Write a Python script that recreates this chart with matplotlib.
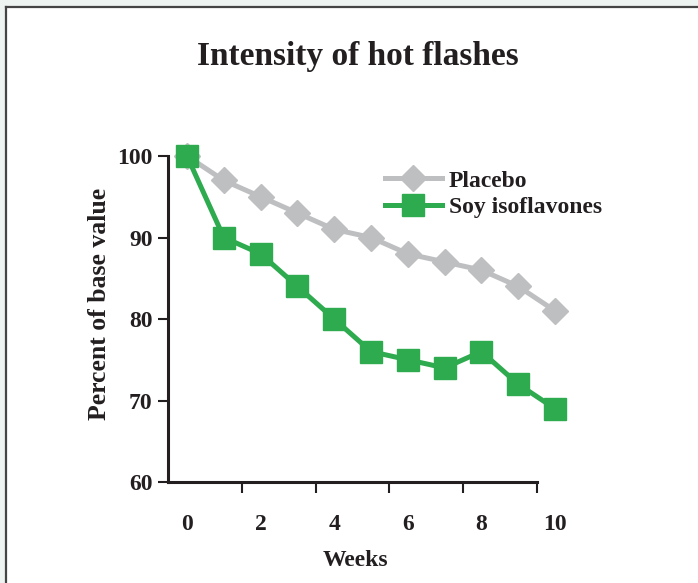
import matplotlib
matplotlib.use("Agg")
import matplotlib.pyplot as plt
from matplotlib.patches import Rectangle

# data
weeks = [0, 1, 2, 3, 4, 5, 6, 7, 8, 9, 10]
placebo = [100, 97, 95, 93, 91, 90, 88, 87, 86, 84, 81]
soy = [100, 90, 88, 84, 80, 76, 75, 74, 76, 72, 69]
xtick_labels = [0, 2, 4, 6, 8, 10]
ytick_values = [60, 70, 80, 90, 100]

INK = "#231F20"
GREEN = "#2EAA4F"
GRAY = "#BEBFC1"
W, H = 698, 583

plt.rcParams["font.family"] = ["Liberation Serif", "DejaVu Serif"]
plt.rcParams["font.weight"] = "bold"

fig = plt.figure(figsize=(W / 100, H / 100), dpi=100)
fig.patch.set_facecolor("#EDF3F1")

# white panel with dark frame on top/left
fig.add_artist(Rectangle((6 / W, 0), 1, 1 - 7 / H, transform=fig.transFigure,
                         facecolor="white", edgecolor="none", zorder=0))
fig.add_artist(plt.Line2D([6 / W, 1], [1 - 7 / H, 1 - 7 / H], transform=fig.transFigure,
                          color="#444444", lw=1.6))
fig.add_artist(plt.Line2D([6 / W, 6 / W], [0, 1 - 7 / H], transform=fig.transFigure,
                          color="#444444", lw=1.6))

# axes: x=-0.52 at px 168, 36.8 px per week; y=60 at px 481, 8.15 px per unit
x0, x1 = -0.52, 10.6
y0, y1 = 60, 101.5
left = (187 + x0 * 36.8) / W
right = (187 + x1 * 36.8) / W
bottom = 1 - 482 / H
top = 1 - (482 - (y1 - 60) * 8.15) / H
ax = fig.add_axes([left, bottom, right - left, top - bottom])
ax.set_facecolor("none")
ax.set_xlim(x0, x1)
ax.set_ylim(y0, y1)

ax.plot(weeks, placebo, color=GRAY, lw=3.6, marker="D", ms=13.5, mec=GRAY,
        label="Placebo", clip_on=False, zorder=3)
ax.plot(weeks, soy, color=GREEN, lw=3.6, marker="s", ms=16, mec=GREEN,
        label="Soy isoflavones", clip_on=False, zorder=4)

for s in ["top", "right"]:
    ax.spines[s].set_visible(False)
for s in ["left", "bottom"]:
    ax.spines[s].set_linewidth(2.2)
    ax.spines[s].set_color(INK)
ax.spines["left"].set_bounds(60, 100)
ax.spines["bottom"].set_bounds(x0, 9.5)

# tick marks sit between the labelled weeks
ax.set_xticks([1.5, 3.5, 5.5, 7.5, 9.5])
ax.set_xticklabels([])
ax.tick_params(axis="x", which="major", length=8, width=1.5, color=INK)
ax.set_xticks(xtick_labels, minor=True)
ax.set_xticklabels([str(v) for v in xtick_labels], minor=True)
ax.tick_params(axis="x", which="minor", length=0, pad=23, labelsize=17, labelcolor=INK)

ax.set_yticks(ytick_values)
ax.set_yticklabels([str(v) for v in ytick_values])
ax.tick_params(axis="y", length=7, width=1.5, color=INK, pad=4, labelsize=17, labelcolor=INK)

fig.text(358 / W, 1 - 57 / H, "Intensity of hot flashes", ha="center", va="center",
         fontsize=24, fontweight="bold", color=INK)
fig.text(355 / W, 1 - 560 / H, "Weeks", ha="center", va="center",
         fontsize=17, fontweight="bold", color=INK)
fig.text(100 / W, 1 - 304 / H, "Percent of base value", ha="center", va="center",
         rotation=90, fontsize=18.5, fontweight="bold", color=INK)

leg = ax.legend(loc="upper left", bbox_to_anchor=(385 / W, 1 - 170 / H),
                bbox_transform=fig.transFigure, frameon=False, fontsize=17,
                handlelength=2.4, handletextpad=0.3, labelspacing=0.22,
                borderpad=0, borderaxespad=0)
for t in leg.get_texts():
    t.set_color(INK)

fig.savefig("out.png", dpi=100, facecolor=fig.get_facecolor())
